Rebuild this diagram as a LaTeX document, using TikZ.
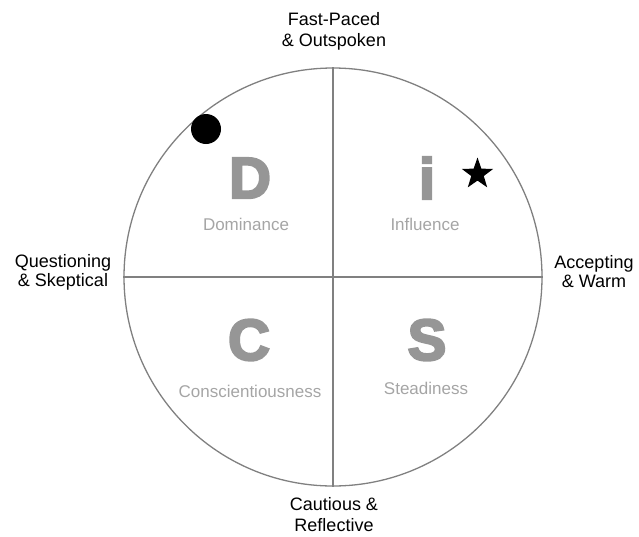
\documentclass[tikz,border=0pt]{standalone}
\usepackage{fontspec}
\setmainfont{Liberation Sans}
\newfontfamily\heavyfont[FakeBold=4]{Liberation Sans Bold}
\usepackage{tikz}
\usetikzlibrary{shapes.geometric}
\definecolor{DiscLineColor}{RGB}{128,128,128}
\definecolor{DiscLetterColor}{RGB}{150,150,150}
\definecolor{DiscWordColor}{RGB}{165,165,165}

\begin{document}
\begin{tikzpicture}[x=1pt,y=-1pt,line width=1.3pt,
  axis/.style={font=\fontsize{18}{21}\selectfont,align=center,inner sep=0pt,anchor=north},
  side/.style={axis,font=\fontsize{18}{18.5}\selectfont},
  letter/.style={font=\fontsize{58}{58}\selectfont\heavyfont,text=DiscLetterColor,inner sep=0pt},
  word/.style={font=\fontsize{17}{20}\selectfont,text=DiscWordColor,inner sep=0pt}]
\useasboundingbox (0,0) rectangle (639,536);
\node[circle,draw=DiscLineColor,minimum size=418pt,inner sep=0pt](disc) at (333,277) {};
\draw[DiscLineColor] (disc.north) -- (disc.south) (disc.west) -- (disc.east);
\foreach \x/\y/\l/\wx/\wy/\w in %
{250/178/D/246/224/Dominance,427/178/i/425/224/Influence,%
 249/340/C/250/391/Conscientiousness,427/340/S/426/388/Steadiness} {
   \node[letter](l\l) at (\x,\y) {\l};
   \node[word](w\l) at (\wx,\wy) {\w};
}
\node[axis](fast) at (334,11.5) {Fast-Paced\\\& Outspoken};
\node[axis](cautious) at (334,497) {Cautious \&\\Reflective};
\node[side](questioning) at (63,254) {Questioning\\\& Skeptical};
\node[side](accepting) at (594,255) {Accepting\\\& Warm};
\node[circle,fill=black,minimum size=30pt,inner sep=0pt](dot) at (206,129) {};
\node[star,star points=5,star point ratio=2.5,fill=black,minimum size=33pt,inner sep=0pt](mark) at (477.5,174) {};
\end{tikzpicture}
\end{document}
